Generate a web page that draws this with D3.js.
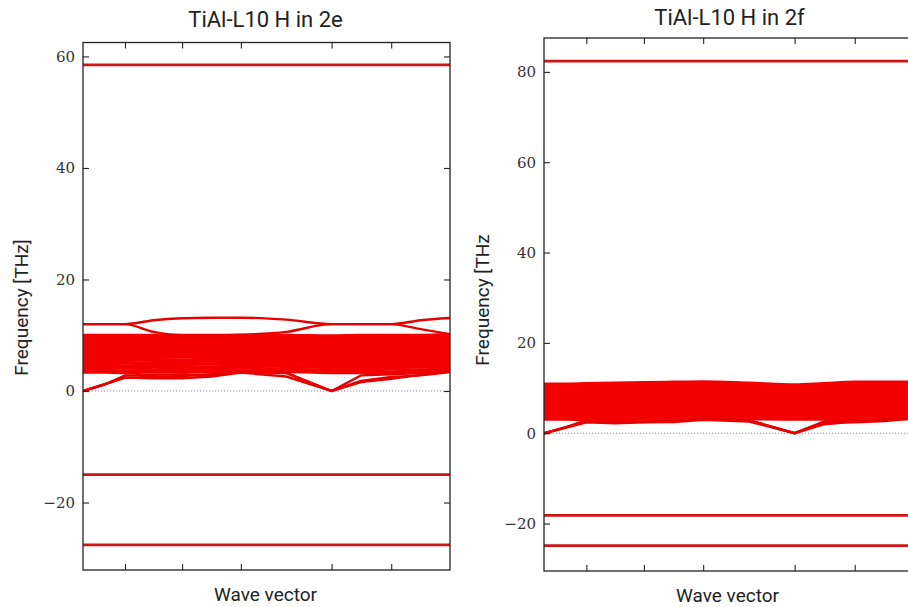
<!DOCTYPE html>
<html><head><meta charset="utf-8">
<script src="https://cdn.jsdelivr.net/npm/d3@7"></script>
<style>body{margin:0;background:#fff}svg{display:block}</style>
</head><body>
<svg id="c" width="908" height="607"></svg>
<script>
// ---- data ----
const kPath = [0, 0.25, 0.5, 0.84, 1.18, 1.53, 1.88, 2.42, 2.96, 3.31, 3.67, 4.02, 4.37];
const kTicks = [0.5, 1.18, 1.88, 2.96, 3.67];
const titles = ["TiAl-L10 H in 2e", "TiAl-L10 H in 2f"];
const yLabels = ["Frequency [THz]", "Frequency [THz"];
const xLabel = "Wave vector";
const leftYTicks = [-20, 0, 20, 40, 60];
const rightYTicks = [-20, 0, 20, 40, 60, 80];

// flat (localised H) modes
const leftFlat = [58.5, -15.0, -27.6];
const rightFlat = [82.4, -18.2, -24.9];

// left panel: upper crossing pair
const leftTop = [
  [12.0, 12.0, 12.0, 12.7, 13.05, 13.15, 13.15, 12.8, 12.0, 12.0, 12.0, 12.7, 13.1],
  [12.0, 12.0, 12.0, 10.6, 10.0, 10.0, 10.1, 10.6, 12.0, 12.0, 12.0, 11.1, 10.2]
];
// left panel: dense optical manifold
const leftMass = [
  [3.4, 3.4, 3.3, 3.4, 3.5, 3.5, 3.6, 3.5, 3.3, 3.3, 3.4, 3.4, 3.5],
  [3.8, 3.7, 3.6, 3.8, 3.9, 4.0, 4.1, 3.9, 3.7, 3.8, 3.9, 3.8, 3.9],
  [4.2, 4.1, 4.1, 4.3, 4.4, 4.3, 4.5, 4.4, 4.2, 4.2, 4.4, 4.3, 4.3],
  [4.6, 4.6, 4.5, 4.7, 4.8, 4.8, 4.9, 4.8, 4.6, 4.7, 4.8, 4.7, 4.7],
  [5.0, 5.1, 5.0, 5.1, 5.2, 5.3, 5.3, 5.2, 5.1, 5.1, 5.2, 5.1, 5.1],
  [5.4, 5.5, 5.5, 5.6, 5.6, 5.7, 5.6, 5.6, 5.5, 5.6, 5.6, 5.5, 5.5],
  [5.8, 5.9, 6.0, 6.0, 6.1, 6.1, 6.0, 6.0, 5.9, 6.0, 6.0, 5.9, 5.9],
  [6.2, 6.3, 6.4, 6.4, 6.5, 6.4, 6.4, 6.4, 6.3, 6.4, 6.4, 6.3, 6.3],
  [6.6, 6.7, 6.8, 6.8, 6.8, 6.8, 6.8, 6.8, 6.7, 6.8, 6.8, 6.7, 6.7],
  [7.0, 7.1, 7.2, 7.2, 7.2, 7.2, 7.2, 7.2, 7.1, 7.2, 7.2, 7.1, 7.1],
  [7.4, 7.5, 7.6, 7.6, 7.6, 7.6, 7.6, 7.6, 7.5, 7.6, 7.6, 7.5, 7.5],
  [7.8, 7.9, 7.9, 8.0, 8.0, 8.0, 8.0, 8.0, 7.9, 8.0, 8.0, 7.9, 7.9],
  [8.2, 8.3, 8.3, 8.4, 8.4, 8.4, 8.4, 8.3, 8.3, 8.4, 8.4, 8.3, 8.3],
  [8.6, 8.6, 8.7, 8.7, 8.8, 8.8, 8.7, 8.7, 8.7, 8.8, 8.8, 8.7, 8.7],
  [9.0, 9.0, 9.1, 9.1, 9.1, 9.2, 9.1, 9.1, 9.0, 9.1, 9.1, 9.1, 9.1],
  [9.4, 9.4, 9.4, 9.5, 9.5, 9.5, 9.5, 9.4, 9.4, 9.5, 9.5, 9.4, 9.5],
  [9.7, 9.7, 9.7, 9.8, 9.8, 9.8, 9.8, 9.7, 9.7, 9.8, 9.8, 9.7, 9.8],
  [10.0, 10.0, 10.0, 10.0, 10.0, 10.0, 10.0, 10.0, 9.9, 10.0, 10.0, 10.0, 10.1],
  [3.5, 4.5, 6.0, 7.5, 8.5, 9.0, 8.0, 6.5, 5.0, 6.0, 7.5, 8.5, 9.5],
  [9.8, 8.5, 7.0, 5.5, 4.5, 4.0, 5.0, 6.5, 8.0, 7.0, 5.5, 4.5, 3.8]
];
// left panel: acoustic-like branches
const leftLow = [
  [0.0, 1.2, 2.4, 2.5, 2.7, 3.0, 3.4, 3.2, 0.0, 2.8, 3.0, 3.2, 3.5],
  [0.0, 1.2, 2.4, 2.3, 2.3, 2.6, 3.3, 2.6, 0.0, 1.8, 2.5, 2.8, 3.4],
  [0.0, 1.1, 2.8, 2.9, 3.0, 2.9, 3.5, 3.3, 0.0, 1.6, 2.2, 2.9, 3.5]
];

// right panel: dense optical manifold
const rightMass = [
  [3.1, 3.1, 3.0, 3.1, 3.2, 3.2, 3.3, 3.2, 3.1, 3.1, 3.2, 3.2, 3.3],
  [3.5, 3.5, 3.4, 3.5, 3.6, 3.6, 3.7, 3.6, 3.5, 3.5, 3.6, 3.6, 3.7],
  [3.9, 3.9, 3.9, 4.0, 4.0, 4.1, 4.1, 4.0, 3.9, 4.0, 4.0, 4.0, 4.1],
  [4.3, 4.3, 4.3, 4.4, 4.4, 4.5, 4.5, 4.4, 4.3, 4.4, 4.4, 4.4, 4.5],
  [4.8, 4.8, 4.8, 4.9, 4.9, 4.9, 5.0, 4.9, 4.8, 4.9, 4.9, 4.9, 4.9],
  [5.2, 5.2, 5.3, 5.3, 5.3, 5.4, 5.4, 5.3, 5.2, 5.3, 5.3, 5.3, 5.3],
  [5.6, 5.7, 5.7, 5.7, 5.8, 5.8, 5.8, 5.7, 5.7, 5.7, 5.8, 5.7, 5.7],
  [6.1, 6.1, 6.1, 6.2, 6.2, 6.2, 6.2, 6.2, 6.1, 6.2, 6.2, 6.1, 6.1],
  [6.5, 6.5, 6.6, 6.6, 6.6, 6.6, 6.7, 6.6, 6.5, 6.6, 6.6, 6.6, 6.6],
  [6.9, 7.0, 7.0, 7.0, 7.1, 7.1, 7.1, 7.0, 7.0, 7.0, 7.1, 7.0, 7.0],
  [7.4, 7.4, 7.4, 7.5, 7.5, 7.5, 7.5, 7.5, 7.4, 7.5, 7.5, 7.4, 7.4],
  [7.8, 7.8, 7.9, 7.9, 7.9, 8.0, 8.0, 7.9, 7.8, 7.9, 7.9, 7.9, 7.9],
  [8.2, 8.3, 8.3, 8.3, 8.4, 8.4, 8.4, 8.3, 8.3, 8.3, 8.4, 8.3, 8.3],
  [8.7, 8.7, 8.7, 8.8, 8.8, 8.8, 8.9, 8.8, 8.7, 8.8, 8.8, 8.8, 8.8],
  [9.1, 9.1, 9.2, 9.2, 9.2, 9.3, 9.3, 9.2, 9.1, 9.2, 9.2, 9.2, 9.2],
  [9.5, 9.6, 9.6, 9.6, 9.7, 9.7, 9.8, 9.6, 9.5, 9.6, 9.7, 9.7, 9.7],
  [10.0, 10.0, 10.0, 10.1, 10.1, 10.2, 10.2, 10.1, 9.9, 10.1, 10.2, 10.2, 10.2],
  [10.4, 10.4, 10.4, 10.5, 10.6, 10.6, 10.7, 10.5, 10.3, 10.5, 10.7, 10.7, 10.6],
  [10.6, 10.7, 10.8, 10.8, 10.9, 11.0, 11.2, 10.9, 10.5, 10.8, 11.1, 11.1, 11.0],
  [10.9, 10.9, 11.0, 11.1, 11.2, 11.3, 11.4, 11.1, 10.7, 11.0, 11.3, 11.3, 11.3],
  [3.3, 4.6, 6.2, 7.8, 9.0, 9.6, 8.4, 6.8, 5.2, 6.4, 8.0, 9.2, 10.0],
  [10.2, 9.0, 7.4, 5.8, 4.6, 4.0, 5.2, 6.8, 8.4, 7.2, 5.6, 4.4, 3.6]
];
// right panel: acoustic-like branches
const rightLow = [
  [0.0, 1.3, 2.6, 2.5, 2.6, 2.8, 3.2, 2.9, 0.0, 2.6, 2.9, 3.1, 3.3],
  [0.0, 1.2, 2.4, 2.2, 2.4, 2.5, 3.0, 2.6, 0.0, 2.0, 2.6, 2.9, 3.2],
  [0.0, 1.3, 2.9, 2.7, 2.5, 2.8, 3.1, 2.9, 0.0, 2.4, 2.4, 2.7, 3.3]
];

// ---- drawing ----
const svg = d3.select("#c");
const panels = [
  {title: titles[0], ylab: yLabels[0], box: [83, 450, 42.5, 570], dom: [-32.1, 62.5], yt: leftYTicks,
   top: leftTop, mass: leftMass, flat: leftFlat, low: leftLow,
   titleY: 27, labX: 28, xlabY: 601},
  {title: titles[1], ylab: yLabels[1], box: [544, 914, 38, 571], dom: [-30.5, 87.5], yt: rightYTicks,
   top: [], mass: rightMass, flat: rightFlat, low: rightLow,
   titleY: 25, labX: 489, xlabY: 602}
];

panels.forEach((p, i) => {
  const [x0, x1, y0, y1] = p.box;
  const x = d3.scaleLinear().domain([kPath[0], kPath[kPath.length - 1]]).range([x0, x1]);
  const y = d3.scaleLinear().domain(p.dom).range([y1, y0]);
  const g = svg.append("g");

  g.append("clipPath").attr("id", "clip" + i)
    .append("rect").attr("x", x0).attr("y", y0).attr("width", x1 - x0).attr("height", y1 - y0);
  const plot = g.append("g").attr("clip-path", `url(#clip${i})`);

  // zero reference line
  plot.append("line")
    .attr("x1", x0).attr("x2", x1).attr("y1", y(0)).attr("y2", y(0))
    .attr("stroke", "#7a7ab0").attr("stroke-width", 0.9).attr("stroke-dasharray", "1.2,1.8");

  const smoothLine = d3.line().x((d, j) => x(kPath[j])).y(d => y(d)).curve(d3.curveMonotoneX);
  const linLine = d3.line().x((d, j) => x(kPath[j])).y(d => y(d));

  plot.selectAll(".ms").data(p.mass).enter().append("path")
    .attr("d", smoothLine).attr("fill", "none").attr("stroke", "#f50000").attr("stroke-width", 3.2);
  plot.selectAll(".tp").data(p.top).enter().append("path")
    .attr("d", smoothLine).attr("fill", "none").attr("stroke", "#e60000").attr("stroke-width", 2.4);
  plot.selectAll(".lo").data(p.low).enter().append("path")
    .attr("d", linLine).attr("fill", "none").attr("stroke", "#e80000").attr("stroke-width", 2.4);
  plot.selectAll(".fl").data(p.flat).enter().append("line")
    .attr("x1", x0).attr("x2", x1).attr("y1", d => y(d)).attr("y2", d => y(d))
    .attr("stroke", "#d21414").attr("stroke-width", 2.8);

  // axes with inward ticks
  const ax = g.append("g").attr("class", "ax");
  ax.append("g").attr("transform", `translate(${x0},0)`)
    .call(d3.axisLeft(y).tickValues(p.yt).tickSizeInner(-6).tickSizeOuter(0).tickPadding(8));
  ax.append("g").attr("transform", `translate(${x1},0)`)
    .call(d3.axisRight(y).tickValues(p.yt).tickSizeInner(-6).tickSizeOuter(0).tickFormat(""));
  ax.append("g").attr("transform", `translate(0,${y1})`)
    .call(d3.axisBottom(x).tickValues(kTicks).tickSizeInner(-6).tickSizeOuter(0).tickFormat(""));
  ax.append("g").attr("transform", `translate(0,${y0})`)
    .call(d3.axisTop(x).tickValues(kTicks).tickSizeInner(-6).tickSizeOuter(0).tickFormat(""));
  ax.selectAll(".domain").remove();
  ax.selectAll(".tick line").attr("stroke", "#222").attr("stroke-width", 1.1);
  ax.selectAll(".tick text").attr("font-family", "DejaVu Serif").attr("font-size", 15).attr("fill", "#333");

  g.append("rect").attr("x", x0).attr("y", y0).attr("width", x1 - x0).attr("height", y1 - y0)
    .attr("fill", "none").attr("stroke", "#222").attr("stroke-width", 1.3);

  g.append("text").attr("x", i ? 729.5 : 265.5).attr("y", p.titleY)
    .attr("text-anchor", "middle").attr("font-family", "Roboto").attr("font-size", 22).attr("fill", "#222")
    .text(p.title);
  g.append("text").attr("x", i ? 727.5 : 265.5).attr("y", p.xlabY)
    .attr("text-anchor", "middle").attr("font-family", "Roboto").attr("font-size", 19).attr("fill", "#222")
    .text(xLabel);
  g.append("text").attr("transform", `translate(${p.labX},${i ? 300 : 307.5}) rotate(-90)`)
    .attr("text-anchor", "middle").attr("font-family", "Roboto").attr("font-size", 19).attr("fill", "#222")
    .text(p.ylab);
});
</script>
</body></html>
